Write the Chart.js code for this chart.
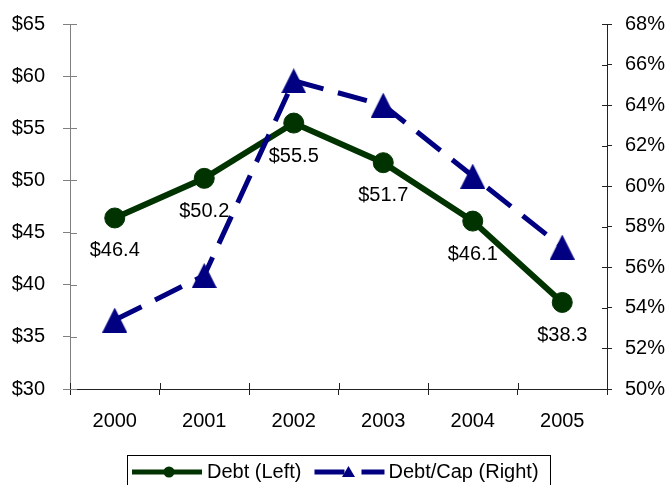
<!DOCTYPE html>
<html><head><meta charset="utf-8">
<script src="https://cdn.jsdelivr.net/npm/chart.js@4/dist/chart.umd.min.js"></script>
<style>html,body{margin:0;padding:0;background:#fff;}#wrap{width:670px;height:485px;}</style>
</head><body><div id="wrap"><canvas id="c" width="670" height="485"></canvas></div>
<script>
const categories = ['2000', '2001', '2002', '2003', '2004', '2005'];
const debtValues = [46.4, 50.2, 55.5, 51.7, 46.1, 38.3];
const debtCapValues = [53.4, 55.6, 65.2, 64.0, 60.5, 57.0];
const leftTickLabels = ['$30', '$35', '$40', '$45', '$50', '$55', '$60', '$65'];
const rightTickLabels = ['50%', '52%', '54%', '56%', '58%', '60%', '62%', '64%', '66%', '68%'];
const seriesNames = ['Debt (Left)', 'Debt/Cap (Right)'];

const GREEN = '#003300';
const NAVY = '#000080';
const FONT = '"Liberation Sans", Arial, Helvetica, sans-serif';

Chart.defaults.font.family = FONT;
Chart.defaults.font.size = 20;
Chart.defaults.color = '#000';

function triangleImage(w, h, color) {
  const c = document.createElement('canvas');
  c.width = w; c.height = h;
  const g = c.getContext('2d');
  g.fillStyle = color;
  g.beginPath();
  g.moveTo(w / 2, 0);
  g.lineTo(w, h);
  g.lineTo(0, h);
  g.closePath();
  g.fill();
  return c;
}
const triMarker = triangleImage(25, 25, NAVY);

const innerTicks = {
  id: 'innerTicks',
  afterDraw(chart) {
    const ctx = chart.ctx;
    const ca = chart.chartArea;
    ctx.save();
    ctx.lineWidth = 1;
    const sy = chart.scales.y, sy1 = chart.scales.y1;
    ctx.strokeStyle = '#808080';
    sy.ticks.forEach((t, i) => {
      const y = Math.round(sy.getPixelForTick(i)) + 0.5;
      ctx.beginPath(); ctx.moveTo(ca.left, y); ctx.lineTo(ca.left + 7, y); ctx.stroke();
    });
    ctx.strokeStyle = '#222';
    sy1.ticks.forEach((t, i) => {
      const y = Math.round(sy1.getPixelForTick(i)) + 0.5;
      ctx.beginPath(); ctx.moveTo(ca.right - 5, y); ctx.lineTo(ca.right, y); ctx.stroke();
    });
    const n = categories.length;
    const step = (ca.right - ca.left) / n;
    for (let i = 0; i <= n; i++) {
      const x = Math.round(ca.left + step * i) + 0.5;
      ctx.beginPath(); ctx.moveTo(x, ca.bottom - 6); ctx.lineTo(x, ca.bottom); ctx.stroke();
    }
    ctx.restore();
  }
};

const valueLabels = {
  id: 'valueLabels',
  afterDatasetsDraw(chart) {
    const ctx = chart.ctx;
    const meta = chart.getDatasetMeta(0);
    ctx.save();
    ctx.font = '20px ' + FONT;
    ctx.fillStyle = '#000';
    ctx.textAlign = 'center';
    ctx.textBaseline = 'middle';
    meta.data.forEach((pt, i) => {
      ctx.fillText('$' + debtValues[i].toFixed(1), pt.x, pt.y + 33);
    });
    ctx.restore();
  }
};

const boxLegend = {
  id: 'boxLegend',
  afterDraw(chart) {
    const ctx = chart.ctx;
    const ca = chart.chartArea;
    ctx.save();
    ctx.font = '20px ' + FONT;
    const widths = seriesNames.map(s => ctx.measureText(s).width);
    const symW = 70, gapT = 5, gapI = 13, padL = 5, padR = 10;
    const total = padL + widths.reduce((a, w) => a + symW + gapT + w, 0) + gapI * (widths.length - 1) + padR;
    const left = Math.round((ca.left + ca.right) / 2 - total / 2);
    const top = Math.round(ca.bottom + 66);
    ctx.strokeStyle = '#000';
    ctx.lineWidth = 1;
    ctx.strokeRect(left + 0.5, top + 0.5, Math.round(total), 34);
    const cy = top + 17;
    let x = left + padL;
    ctx.strokeStyle = GREEN; ctx.fillStyle = GREEN; ctx.lineWidth = 5;
    ctx.beginPath(); ctx.moveTo(x, cy); ctx.lineTo(x + symW, cy); ctx.stroke();
    ctx.beginPath(); ctx.arc(x + 37, cy, 5.5, 0, Math.PI * 2); ctx.fill();
    x += symW + gapT;
    ctx.fillStyle = '#000'; ctx.textBaseline = 'middle'; ctx.textAlign = 'left';
    ctx.fillText(seriesNames[0], x, cy);
    x += widths[0] + gapI;
    ctx.strokeStyle = NAVY; ctx.fillStyle = NAVY; ctx.lineWidth = 5;
    ctx.beginPath(); ctx.moveTo(x, cy); ctx.lineTo(x + 30, cy); ctx.stroke();
    ctx.beginPath(); ctx.moveTo(x + 47, cy); ctx.lineTo(x + symW, cy); ctx.stroke();
    ctx.beginPath();
    ctx.moveTo(x + 34, cy - 6); ctx.lineTo(x + 40.5, cy + 5); ctx.lineTo(x + 27.5, cy + 5); ctx.closePath(); ctx.fill();
    x += symW + gapT - 1;
    ctx.fillStyle = '#000';
    ctx.fillText(seriesNames[1], x, cy);
    ctx.restore();
  }
};

new Chart(document.getElementById('c'), {
  type: 'line',
  data: {
    labels: categories,
    datasets: [
      {
        label: seriesNames[0],
        data: debtValues,
        yAxisID: 'y',
        borderColor: GREEN,
        backgroundColor: GREEN,
        borderWidth: 6,
        pointStyle: 'circle',
        pointRadius: 10,
        pointBorderWidth: 1,
        pointBackgroundColor: GREEN,
        pointBorderColor: GREEN,
        tension: 0,
        fill: false,
        order: 2
      },
      {
        label: seriesNames[1],
        data: debtCapValues,
        yAxisID: 'y1',
        borderColor: NAVY,
        backgroundColor: NAVY,
        borderWidth: 5,
        borderDash: [30, 15],
        borderCapStyle: 'butt',
        pointStyle: triMarker,
        pointRadius: 12,
        tension: 0,
        fill: false,
        order: 1
      }
    ]
  },
  options: {
    responsive: false,
    animation: false,
    devicePixelRatio: 1,
    layout: { padding: { left: 12, right: 5, top: 24, bottom: 40 } },
    plugins: { legend: { display: false }, tooltip: { enabled: false } },
    scales: {
      x: {
        type: 'category',
        offset: true,
        grid: { offset: true, drawOnChartArea: false, drawTicks: true, tickLength: 6, color: '#222' },
        border: { color: '#222', width: 1 },
        ticks: { padding: 14, maxRotation: 0, autoSkip: false },
        afterFit: (s) => { s.height = 56; s.paddingLeft = 0; s.paddingRight = 0; }
      },
      y: {
        position: 'left',
        min: 30, max: 65,
        ticks: { stepSize: 5, padding: 18, callback: (v, i) => leftTickLabels[i] },
        grid: { drawOnChartArea: false, tickLength: 7, color: '#808080' },
        border: { color: '#808080', width: 1 },
        afterFit: (s) => { s.width = 58; s.paddingTop = 12; s.paddingBottom = 12; }
      },
      y1: {
        position: 'right',
        min: 50, max: 68,
        ticks: { stepSize: 2, padding: 13, callback: (v, i) => rightTickLabels[i] },
        grid: { drawOnChartArea: false, tickLength: 5, color: '#222' },
        border: { color: '#222', width: 1 },
        afterFit: (s) => { s.width = 58; s.paddingTop = 12; s.paddingBottom = 12; }
      }
    }
  },
  plugins: [innerTicks, valueLabels, boxLegend]
});
</script>
</body></html>
